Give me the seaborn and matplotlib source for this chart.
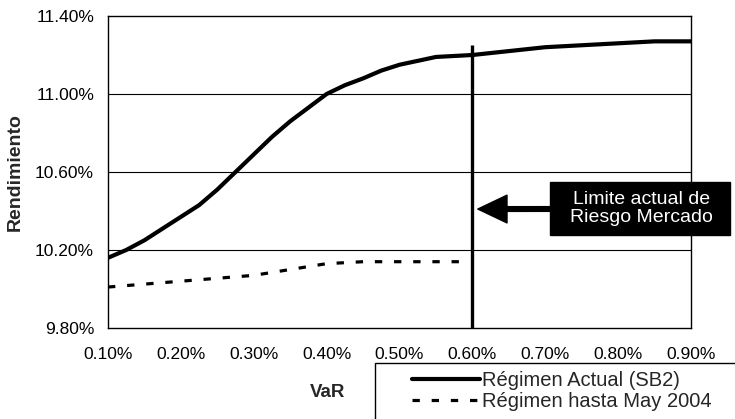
import matplotlib
matplotlib.use("Agg")
import matplotlib.pyplot as plt
from matplotlib.patches import Rectangle
from matplotlib.ticker import FuncFormatter
import pandas as pd
import seaborn as sns

# VaR (%) and expected return (%) under each regime
var_actual = [0.10, 0.125, 0.15, 0.175, 0.20, 0.225, 0.25, 0.275, 0.30, 0.325,
              0.35, 0.375, 0.40, 0.425, 0.45, 0.475, 0.50, 0.55, 0.60, 0.65,
              0.70, 0.75, 0.80, 0.85, 0.90]
rend_actual = [10.16, 10.20, 10.25, 10.31, 10.37, 10.43, 10.51, 10.60, 10.69, 10.78,
               10.86, 10.93, 11.00, 11.045, 11.08, 11.12, 11.15, 11.19, 11.20, 11.22,
               11.24, 11.25, 11.26, 11.27, 11.27]

var_anterior = [0.10, 0.15, 0.20, 0.25, 0.30, 0.35, 0.40, 0.45, 0.50, 0.55, 0.585]
rend_anterior = [10.01, 10.025, 10.04, 10.055, 10.07, 10.10, 10.13, 10.14, 10.14, 10.14, 10.14]

serie_actual = "Régimen Actual (SB2)"
serie_anterior = "Régimen hasta May 2004"

limite_var = 0.60
limite_top = 11.25

x_ticks = [0.10, 0.20, 0.30, 0.40, 0.50, 0.60, 0.70, 0.80, 0.90]
y_ticks = [9.80, 10.20, 10.60, 11.00, 11.40]

df = pd.concat([
    pd.DataFrame({"VaR": var_actual, "Rendimiento": rend_actual, "Serie": serie_actual}),
    pd.DataFrame({"VaR": var_anterior, "Rendimiento": rend_anterior, "Serie": serie_anterior}),
], ignore_index=True)

sns.set_style("white")
plt.rcParams["font.family"] = ["Liberation Sans", "DejaVu Sans"]

W, H = 735, 419
fig = plt.figure(figsize=(W / 100, H / 100), dpi=100)
ax = fig.add_axes([108 / W, 1 - 328 / H, (691 - 108) / W, (328 - 16) / H])

DASH = (2.3, 3.7)
sns.lineplot(data=df, x="VaR", y="Rendimiento", hue="Serie", style="Serie",
             palette={serie_actual: "black", serie_anterior: "black"},
             dashes={serie_actual: "", serie_anterior: DASH},
             linewidth=3.0, ax=ax, legend=False, sort=False)
ax.lines[1].set_linewidth(2.3)

ax.set_xlim(x_ticks[0], x_ticks[-1])
ax.set_ylim(y_ticks[0], y_ticks[-1])
ax.set_xticks(x_ticks)
ax.set_yticks(y_ticks)
ax.xaxis.set_major_formatter(FuncFormatter(lambda v, _: f"{v:.2f}%"))
ax.yaxis.set_major_formatter(FuncFormatter(lambda v, _: f"{v:.2f}%"))
ax.tick_params(axis="both", direction="out", length=4, width=1, color="black",
               labelsize=12.5, labelcolor="black")
ax.tick_params(axis="x", pad=10)
ax.tick_params(axis="y", pad=6)

for yv in y_ticks[1:-1]:
    ax.axhline(yv, color="black", linewidth=0.8, zorder=0)
for sp in ax.spines.values():
    sp.set_visible(True)
    sp.set_color("black")
    sp.set_linewidth(1.0)

# Current market-risk limit
ax.vlines(limite_var, y_ticks[0], limite_top, color="black", linewidth=2.4, zorder=3)

ax.set_xlabel("VaR", fontsize=13.5, fontweight="bold")
ax.set_ylabel("Rendimiento", fontsize=14, fontweight="bold")
ax.xaxis.label.set_va("center")
ax.yaxis.label.set_va("center")
ax.xaxis.set_label_coords((328 - 108) / 583, -(392 - 328) / 312)
ax.yaxis.set_label_coords((15 - 108) / 583, 0.5)

# Annotation box and arrow pointing at the limit
bx0, by0, bx1, by1 = 550, 182, 730, 235
fig.patches.append(Rectangle((bx0 / W, 1 - by1 / H), (bx1 - bx0) / W, (by1 - by0) / H,
                             transform=fig.transFigure, facecolor="black",
                             edgecolor="black", zorder=5))
fig.text((bx0 + bx1) / 2 / W + 0.002, 1 - (by0 + by1) / 2 / H,
         "Limite actual de\nRiesgo Mercado", color="white", fontsize=14,
         ha="center", va="center", linespacing=1.1, zorder=6)
ax.annotate("", xy=(0.6075, 10.41), xycoords="data",
            xytext=(bx0 + 1, H - 209), textcoords="figure pixels",
            arrowprops=dict(arrowstyle="simple,head_length=1.05,head_width=1.0,tail_width=0.17",
                            mutation_scale=20, color="black", shrinkA=0, shrinkB=0),
            annotation_clip=False, zorder=6)

# Legend frame and entries
fig.patches.append(Rectangle((375 / W, -0.02), 0.5, 1 - 363 / H + 0.02,
                             transform=fig.transFigure, facecolor="white",
                             edgecolor="black", linewidth=1.0, zorder=1))
handles = [plt.Line2D([], [], color="black", linewidth=3.0),
           plt.Line2D([], [], color="black", linewidth=2.3, dashes=DASH)]
leg = fig.legend(handles, [serie_actual, serie_anterior], loc="upper left",
                 bbox_to_anchor=(412 / W, 1 - 371 / H), frameon=False,
                 fontsize=14.5, handlelength=3.4, handletextpad=0.1,
                 labelspacing=0.12, borderpad=0, borderaxespad=0)
leg.set_zorder(7)

fig.savefig("out.png", dpi=100)
